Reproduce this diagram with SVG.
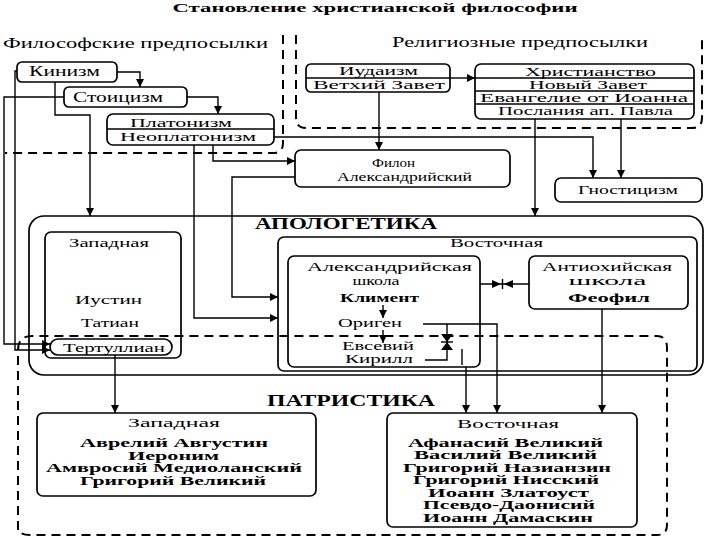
<svg xmlns="http://www.w3.org/2000/svg" width="720" height="540" viewBox="0 0 720 540">
<defs>
<marker id="ah" markerUnits="userSpaceOnUse" markerWidth="9" markerHeight="8" refX="8" refY="4" orient="auto">
<path d="M0,0 L8,4 L0,8 z" fill="#000"/>
</marker>
<style>
.box{fill:none;stroke:#000;stroke-width:1.7}
.ln{fill:none;stroke:#000;stroke-width:1.4}
.dash{fill:none;stroke:#000;stroke-width:2;stroke-dasharray:9 6}
.t{font-family:"Liberation Serif","DejaVu Serif",serif;font-size:14px;fill:#000;text-anchor:middle}
.s{font-size:13px}
.n{font-size:11.5px;font-weight:bold}
.r{font-size:12.5px}
.k{font-size:11.5px}
.b{font-weight:bold}
.h{font-weight:bold;font-size:16px}
</style>
</defs>
<rect width="720" height="540" fill="#fff"/>
<text class="t b" x="375" y="12" style="font-size:13px" textLength="405" lengthAdjust="spacingAndGlyphs">Становление христианской философии</text>

<g id="regions">
<path class="dash" d="M283,35 V143 Q283,153 273,153 H5"/>
<path class="dash" d="M296,35 V118 Q296,128 306,128 H692 Q702,128 702,118 V35"/>
<path class="dash" d="M18,530 V350 Q18,336 32,336 H657 Q667,336 667,348 V525 Q667,535 657,535 H30 Q18,535 18,527"/>
<text class="t" x="135.5" y="48" textLength="265" lengthAdjust="spacingAndGlyphs">Философские предпосылки</text>
<text class="t" x="520" y="47" textLength="256" lengthAdjust="spacingAndGlyphs">Религиозные предпосылки</text>
</g>

<g id="connectors">
<path class="ln" d="M117,72 H140 V87" marker-end="url(#ah)"/>
<path class="ln" d="M187,97 H218 V114" marker-end="url(#ah)"/>
<path class="ln" d="M450,78 H475" marker-end="url(#ah)"/>
<path class="ln" d="M379,92 V150" marker-end="url(#ah)"/>
<path class="ln" d="M621,119 V178" marker-end="url(#ah)"/>
<path class="ln" d="M274,137 H593 V178" marker-end="url(#ah)"/>
<path class="ln" d="M535,119 V216" marker-end="url(#ah)"/>
<path class="ln" d="M213,145 V161 H295" marker-end="url(#ah)"/>
<path class="ln" d="M194,145 V318 H278" marker-end="url(#ah)"/>
<path class="ln" d="M295,177 H232 V297 H278" marker-end="url(#ah)"/>
<path class="ln" d="M55,82 V115 H90 V216" marker-end="url(#ah)"/>
<path class="ln" d="M17,71 H15 V350 H50" marker-end="url(#ah)"/>
<path class="ln" d="M64,97 H4 V344 H50" marker-end="url(#ah)"/>
<path class="ln" d="M115,355 V413" marker-end="url(#ah)"/>
<path class="ln" d="M423,324 H497 V413" marker-end="url(#ah)"/>
<path class="ln" d="M447,324 V360 H425"/>
<path d="M441,334 H453 L447,342 z M441,350 H453 L447,342 z" fill="#000"/>
<path class="ln" d="M441,342 H453"/>
<path class="ln" d="M462,349 V365"/>
<path class="ln" d="M466,367 V413" marker-end="url(#ah)"/>
<path class="ln" d="M602,309 V413" marker-end="url(#ah)"/>
<path class="ln" d="M480,284 H529"/>
<path d="M492,280 L501,284 L492,288 z M513,280 L504,284 L513,288 z" fill="#000"/>
<path class="ln" d="M502.5,279 V289"/>
<path class="ln" d="M383,305 V318" marker-end="url(#ah)"/>
<path class="ln" d="M383,330 V343" marker-end="url(#ah)"/>
</g>

<g id="kinizm">
<rect class="box" x="17" y="62" width="100" height="20" rx="5"/>
<text class="t" x="64.5" y="76" textLength="71" lengthAdjust="spacingAndGlyphs">Кинизм</text>
</g>
<g id="stoicizm">
<rect class="box" x="64" y="87" width="123" height="20" rx="5"/>
<text class="t" x="118" y="102" textLength="90" lengthAdjust="spacingAndGlyphs">Стоицизм</text>
</g>
<g id="platonizm">
<rect class="box" x="107" y="114" width="167" height="31" rx="6"/>
<line class="ln" x1="107" y1="129" x2="274" y2="129"/>
<text class="t r" x="181" y="127" textLength="102" lengthAdjust="spacingAndGlyphs">Платонизм</text>
<text class="t r" x="188" y="141" textLength="136" lengthAdjust="spacingAndGlyphs">Неоплатонизм</text>
</g>
<g id="iudaizm">
<rect class="box" x="306" y="64" width="144" height="28" rx="5"/>
<line class="ln" x1="306" y1="78" x2="450" y2="78"/>
<text class="t r" x="378.5" y="75" textLength="79" lengthAdjust="spacingAndGlyphs">Иудаизм</text>
<text class="t r" x="379" y="89" textLength="132" lengthAdjust="spacingAndGlyphs">Ветхий Завет</text>
</g>
<g id="hristianstvo">
<rect class="box" x="475" y="64" width="219" height="55" rx="6"/>
<line class="ln" x1="475" y1="78" x2="694" y2="78"/>
<line class="ln" x1="475" y1="91" x2="694" y2="91"/>
<line class="ln" x1="475" y1="104" x2="694" y2="104"/>
<text class="t r" x="590.5" y="75.5" textLength="131" lengthAdjust="spacingAndGlyphs">Христианство</text>
<text class="t r" x="588" y="88.5" textLength="118" lengthAdjust="spacingAndGlyphs">Новый Завет</text>
<text class="t r" x="584" y="101.5" textLength="208" lengthAdjust="spacingAndGlyphs">Евангелие от Иоанна</text>
<text class="t r" x="585.5" y="115" textLength="175" lengthAdjust="spacingAndGlyphs">Послания ап. Павла</text>
</g>
<g id="filon">
<rect class="box" x="295" y="150" width="215" height="37" rx="6"/>
<text class="t s" x="393.5" y="167" textLength="43" lengthAdjust="spacingAndGlyphs">Филон</text>
<text class="t s" x="404.5" y="181" textLength="135" lengthAdjust="spacingAndGlyphs">Александрийский</text>
</g>
<g id="gnosticizm">
<rect class="box" x="555" y="178" width="147" height="24" rx="6"/>
<text class="t s" x="628" y="194" textLength="100" lengthAdjust="spacingAndGlyphs">Гностицизм</text>
</g>

<g id="apologetika">
<rect class="box" x="29" y="216" width="674" height="159" rx="15"/>
<text class="t h" x="346" y="229" textLength="182" lengthAdjust="spacingAndGlyphs">АПОЛОГЕТИКА</text>
</g>
<g id="apol-west">
<rect class="box" x="45" y="232" width="136" height="126" rx="6"/>
<text class="t s" x="109" y="247" textLength="80" lengthAdjust="spacingAndGlyphs">Западная</text>
<text class="t s" x="108.5" y="304" textLength="67" lengthAdjust="spacingAndGlyphs">Иустин</text>
<text class="t s" x="110" y="327" textLength="58" lengthAdjust="spacingAndGlyphs">Татиан</text>
</g>
<g id="tertullian">
<rect class="box" x="50" y="339" width="122" height="16" rx="8"/>
<text class="t s" x="114" y="351.5" textLength="102" lengthAdjust="spacingAndGlyphs">Тертуллиан</text>
</g>
<g id="apol-east">
<rect class="box" x="278" y="237" width="419" height="134" rx="6"/>
<text class="t s" x="496.5" y="247" textLength="93" lengthAdjust="spacingAndGlyphs">Восточная</text>
</g>
<g id="alex">
<rect class="box" x="288" y="256" width="192" height="111" rx="6"/>
<text class="t s" x="389.5" y="271" textLength="165" lengthAdjust="spacingAndGlyphs">Александрийская</text>
<text class="t k" x="376" y="285" textLength="47" lengthAdjust="spacingAndGlyphs">школа</text>
<text class="t s b" x="379.5" y="302" textLength="79" lengthAdjust="spacingAndGlyphs">Климент</text>
<text class="t s" x="370" y="327" textLength="64" lengthAdjust="spacingAndGlyphs">Ориген</text>
<text class="t r" x="378" y="350" textLength="72" lengthAdjust="spacingAndGlyphs">Евсевий</text>
<text class="t r" x="379" y="363" textLength="68" lengthAdjust="spacingAndGlyphs">Кирилл</text>
</g>
<g id="antioch">
<rect class="box" x="529" y="256" width="159" height="53" rx="6"/>
<text class="t s" x="607" y="271" textLength="130" lengthAdjust="spacingAndGlyphs">Антиохийская</text>
<text class="t k" x="607.5" y="285" textLength="78" lengthAdjust="spacingAndGlyphs">школа</text>
<text class="t s b" x="609" y="302" textLength="82" lengthAdjust="spacingAndGlyphs">Феофил</text>
</g>

<g id="patristika">
<text class="t h" x="351" y="406" textLength="168" lengthAdjust="spacingAndGlyphs">ПАТРИСТИКА</text>
</g>
<g id="patr-west">
<rect class="box" x="37" y="413" width="279" height="83" rx="6"/>
<text class="t s" x="174" y="427" textLength="92" lengthAdjust="spacingAndGlyphs">Западная</text>
<text class="t n" x="174" y="447" textLength="188" lengthAdjust="spacingAndGlyphs">Аврелий Августин</text>
<text class="t n" x="173.5" y="459.5" textLength="91" lengthAdjust="spacingAndGlyphs">Иероним</text>
<text class="t n" x="174" y="472" textLength="256" lengthAdjust="spacingAndGlyphs">Амвросий Медиоланский</text>
<text class="t n" x="173" y="484.5" textLength="186" lengthAdjust="spacingAndGlyphs">Григорий Великий</text>
</g>
<g id="patr-east">
<rect class="box" x="387" y="413" width="250" height="114" rx="6"/>
<text class="t s" x="508" y="428" textLength="102" lengthAdjust="spacingAndGlyphs">Восточная</text>
<text class="t n" x="505.5" y="446.5" textLength="195" lengthAdjust="spacingAndGlyphs">Афанасий Великий</text>
<text class="t n" x="505.5" y="459" textLength="183" lengthAdjust="spacingAndGlyphs">Василий Великий</text>
<text class="t n" x="507" y="471.5" textLength="208" lengthAdjust="spacingAndGlyphs">Григорий Назианзин</text>
<text class="t n" x="506" y="484" textLength="186" lengthAdjust="spacingAndGlyphs">Григорий Нисский</text>
<text class="t n" x="508.5" y="496.5" textLength="161" lengthAdjust="spacingAndGlyphs">Иоанн Златоуст</text>
<text class="t n" x="509" y="509" textLength="172" lengthAdjust="spacingAndGlyphs">Псевдо-Даонисий</text>
<text class="t n" x="508" y="521.5" textLength="170" lengthAdjust="spacingAndGlyphs">Иоанн Дамаскин</text>
</g>
</svg>
